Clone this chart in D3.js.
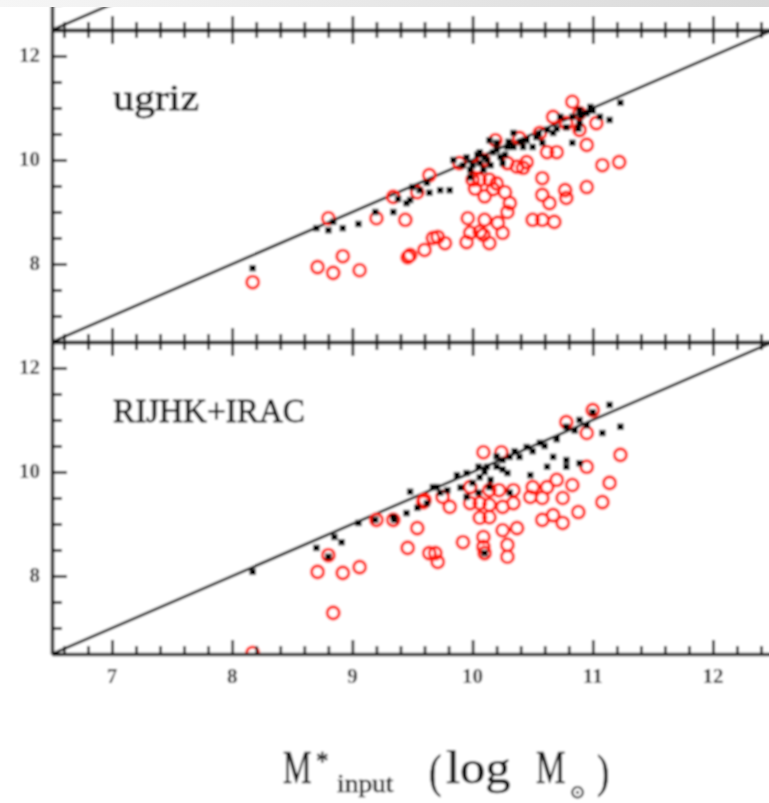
<!DOCTYPE html>
<html>
<head>
<meta charset="utf-8">
<script src="https://cdn.jsdelivr.net/npm/d3@7/dist/d3.min.js"></script>
<style>
  html, body { margin: 0; padding: 0; background: #fff; }
  svg { display: block; }
</style>
</head>
<body>
<svg id="chart" width="769" height="803"></svg>
<script>
// ---------------- data (log stellar mass: input vs. fitted) ----------------
const xTickLabels = ["7", "8", "9", "10", "11", "12"];
const yTickLabels = ["8", "10", "12"];
const panelLabels = ["ugriz", "RIJHK+IRAC"];

const ugrizBlack = [
  [8.17,7.92],[8.70,8.69],[8.80,8.65],[8.84,8.81],[8.92,8.69],[9.05,8.77],[9.19,9.00],[9.34,9.00],
  [9.45,9.17],[9.48,9.23],[9.56,9.42],[9.64,9.37],[9.50,9.48],[9.62,9.56],[9.73,9.42],[9.81,9.42],
  [9.84,10.00],[9.92,9.90],[9.98,9.81],[9.98,9.67],[10.04,10.10],[10.06,10.15],[10.06,9.94],[10.09,9.81],
  [10.12,10.00],[10.14,10.38],[10.17,10.15],[10.20,10.33],[10.23,10.06],[10.25,9.94],[10.29,10.25],
  [10.34,10.52],[10.34,10.25],[10.42,10.25],[10.45,10.38],[10.50,10.25],[10.53,10.44],[10.58,10.33],
  [10.62,10.58],[10.67,10.52],[10.73,10.83],[10.78,10.63],[10.83,10.83],[10.83,10.33],[10.89,10.96],
  [10.89,10.71],[10.95,10.90],[10.98,11.02],[11.06,10.83],[11.14,10.77],[11.23,11.10],
  [9.95,10.05],[10.00,9.90],[10.10,10.05],[10.15,9.90],[10.20,10.20],[10.27,10.10],[10.30,10.35],
  [10.40,10.35],[10.55,10.50],[10.70,10.60],[10.90,10.85],[11.00,10.95],[10.88,10.60],[9.38,9.25]
];
const ugrizRed = [
  [8.17,7.65],[8.80,8.88],[8.71,7.94],[8.84,7.83],[8.92,8.15],[9.06,7.88],[9.20,8.88],[9.34,9.29],
  [9.44,8.85],[9.46,8.13],[9.60,8.27],[9.67,8.50],[9.64,9.71],[9.54,9.38],[10.83,11.12],[10.67,10.83],
  [10.19,10.38],[9.96,8.88],[10.10,8.85],[10.21,8.79],[10.29,9.00],[10.31,9.17],[10.27,9.38],[10.06,9.62],
  [10.14,9.62],[9.98,8.60],[10.09,8.56],[10.14,8.40],[9.95,8.42],[10.25,8.60],[9.71,8.52],[9.77,8.40],
  [9.48,8.17],[10.58,9.65],[10.58,9.33],[10.64,9.17],[10.77,9.42],[10.50,8.85],[10.58,8.85],[10.68,8.81],
  [10.78,9.27],[10.95,9.48],[11.08,9.90],[11.22,9.96],[10.95,10.29],[11.03,10.71],[10.89,10.58],
  [10.70,10.15],[10.62,10.15],[10.45,9.96],[10.37,9.87],[10.29,9.94],[10.09,10.00],[10.04,9.87],
  [10.00,9.62],[9.89,9.94],[10.39,10.42],[10.56,10.52],[10.78,10.71],[10.89,10.90],[10.17,9.44],
  [10.06,8.62],[10.42,9.85],[10.02,9.45],[10.10,9.30],[10.20,9.55]
];
const nirBlack = [
  [8.17,8.08],[8.70,8.54],[8.85,8.75],[8.91,8.65],[8.80,8.37],[9.05,9.02],[9.19,9.08],[9.35,9.08],
  [9.48,9.62],[9.70,9.71],[9.62,9.40],[9.45,9.21],[11.14,11.29],[11.23,10.87],[11.08,10.75],[11.00,11.15],
  [10.89,11.00],[10.78,10.87],[10.70,10.63],[10.56,10.56],[10.45,10.48],[10.39,10.29],[10.31,10.29],
  [10.25,10.23],[10.20,10.10],[10.12,10.10],[10.06,9.90],[10.00,9.79],[9.95,9.52],[9.95,9.98],[9.87,9.94],
  [9.79,9.65],[9.73,9.60],[9.67,9.71],[9.54,9.31],[9.34,9.13],[10.31,9.60],[10.48,9.94],[10.78,10.10],
  [10.62,10.10],[10.67,10.29],[10.78,10.23],[10.89,10.17],[10.10,8.44],[10.14,9.71],[10.29,9.98],
  [10.10,10.00],[10.20,10.30],[10.25,10.05],[10.05,10.10],[10.15,9.85],[10.35,10.40],[10.50,10.40],
  [10.60,10.50],[10.85,10.80],[10.95,10.90],[10.05,9.60],[9.90,9.70]
];
const nirRed = [
  [10.09,10.38],[10.24,10.38],[10.78,10.96],[11.00,11.19],[10.95,10.75],[11.23,10.33],[10.95,10.10],
  [10.83,9.75],[11.14,9.79],[11.08,9.42],[10.88,9.23],[10.75,9.02],[10.67,9.17],[10.58,9.08],[10.75,9.50],
  [10.58,9.50],[10.48,9.52],[10.62,9.71],[10.70,9.85],[10.50,9.71],[10.34,9.40],[10.25,9.33],[10.14,9.37],
  [10.06,9.40],[9.98,9.40],[9.81,9.33],[10.06,9.12],[10.14,9.13],[10.25,8.88],[10.37,8.92],[10.29,8.60],
  [10.29,8.37],[10.09,8.75],[10.09,8.56],[9.92,8.65],[10.10,8.44],[9.69,8.44],[9.71,8.27],[9.46,8.54],
  [9.54,8.92],[9.34,9.08],[9.59,9.42],[9.75,9.52],[9.98,9.71],[10.14,9.65],[10.22,9.65],[10.34,9.65],
  [8.80,8.40],[8.71,8.08],[8.92,8.06],[9.06,8.17],[8.84,7.29],[9.20,9.08],[9.64,8.44],[9.60,9.46],
  [8.17,6.52]
];
const oneToOne = [6.5, 12.5];

// ---------------- layout ----------------
const svg = d3.select("#chart");
const W = 769;
const left = 52, right = 773, panelH = 312;
const panelTops = [-282, 30, 342];

const defs = svg.append("defs");
const blur = defs.append("filter").attr("id", "soft")
  .attr("filterUnits", "userSpaceOnUse")
  .attr("x", 0).attr("y", 0).attr("width", 769).attr("height", 803);
blur.append("feGaussianBlur").attr("stdDeviation", 0.85);
const grad = defs.append("linearGradient").attr("id", "band");
grad.append("stop").attr("offset", "0%").attr("stop-color", "#f6f6f6");
grad.append("stop").attr("offset", "100%").attr("stop-color", "#d9d9d9");

const x = d3.scaleLinear().domain([6.5, 12.5]).range([left, right]);

const root = svg.append("g").attr("filter", "url(#soft)");
root.append("rect").attr("x", 0).attr("y", 0).attr("width", 769).attr("height", 803).attr("fill", "#fff");

const panels = [
  { top: panelTops[0], black: [], red: [], label: null },
  { top: panelTops[1], black: ugrizBlack, red: ugrizRed, label: panelLabels[0] },
  { top: panelTops[2], black: nirBlack, red: nirRed, label: panelLabels[1] }
];

const xMajor = d3.range(7, 13, 1);
const xMinor = d3.range(6.6, 12.5, 0.2).filter(v => Math.abs(v - Math.round(v)) > 0.05);
const yMajor = [8, 10, 12];
const yMinor = [7, 7.5, 8.5, 9, 9.5, 10.5, 11, 11.5, 12.5, 6.5];

panels.forEach((p, i) => {
  const y = d3.scaleLinear().domain([6.5, 12.5]).range([p.top + panelH, p.top]);
  const g = root.append("g");
  const clipId = "clip" + i;
  defs.append("clipPath").attr("id", clipId).append("rect")
    .attr("x", left).attr("y", p.top).attr("width", right - left).attr("height", panelH);

  g.append("line")
    .attr("x1", x(oneToOne[0])).attr("y1", y(oneToOne[0]))
    .attr("x2", x(oneToOne[1])).attr("y2", y(oneToOne[1]))
    .attr("stroke", "#000").attr("stroke-width", 2.8)
    .attr("clip-path", `url(#${clipId})`);

  const pts = g.append("g").attr("clip-path", `url(#${clipId})`);
  pts.selectAll("circle.red").data(p.red).join("circle")
    .attr("class", "red")
    .attr("cx", d => x(d[0])).attr("cy", d => y(d[1])).attr("r", 6)
    .attr("fill", "none").attr("stroke", "#ff1a0a").attr("stroke-width", 3.1);
  pts.selectAll("rect.blk").data(p.black).join("rect")
    .attr("class", "blk")
    .attr("x", d => x(d[0]) - 3.2).attr("y", d => y(d[1]) - 3.2)
    .attr("width", 6.4).attr("height", 6.4)
    .attr("fill", "#000");

  const styleAxis = (sel, w) => {
    sel.select(".domain").attr("stroke", "#2a2a2a").attr("stroke-width", w);
    sel.selectAll(".tick line").attr("stroke", "#000").attr("stroke-width", 2.6);
    sel.selectAll(".tick text").remove();
  };
  const bot = g.append("g").attr("transform", `translate(0,${p.top + panelH})`);
  bot.append("g").call(d3.axisTop(x).tickValues(xMajor).tickSize(14).tickSizeOuter(0).tickFormat(""))
    .call(s => styleAxis(s, 3.6));
  bot.append("g").call(d3.axisTop(x).tickValues(xMinor).tickSize(8).tickSizeOuter(0).tickFormat(""))
    .call(s => styleAxis(s, 0));
  const top = g.append("g").attr("transform", `translate(0,${p.top})`);
  top.append("g").call(d3.axisBottom(x).tickValues(xMajor).tickSize(14).tickSizeOuter(0).tickFormat(""))
    .call(s => styleAxis(s, 3.6));
  top.append("g").call(d3.axisBottom(x).tickValues(xMinor).tickSize(8).tickSizeOuter(0).tickFormat(""))
    .call(s => styleAxis(s, 0));
  const lf = g.append("g").attr("transform", `translate(${left},0)`);
  lf.append("g").call(d3.axisRight(y).tickValues(yMajor).tickSize(15).tickSizeOuter(0).tickFormat(""))
    .call(s => styleAxis(s, 3.6));
  lf.append("g").call(d3.axisRight(y).tickValues(yMinor).tickSize(10).tickSizeOuter(0).tickFormat(""))
    .call(s => styleAxis(s, 0));

  if (p.label) {
    g.selectAll("text.ylab").data(yTickLabels).join("text")
      .attr("class", "ylab")
      .attr("x", 40).attr("y", d => y(+d) - 2).attr("dy", "0.36em")
      .attr("text-anchor", "end")
      .attr("font-family", "Liberation Serif, serif").attr("font-weight", "bold")
      .attr("font-size", 21).attr("fill", "#222")
      .text(d => d);
    const lw = i === 1 ? 86 : 192;
    g.append("text")
      .attr("x", 113).attr("y", y(10.97))
      .attr("font-family", "Liberation Serif, serif")
      .attr("font-size", i === 1 ? 36 : 34).attr("fill", "#111")
      .attr("stroke", "#111").attr("stroke-width", 0.8)
      .attr("textLength", lw).attr("lengthAdjust", "spacingAndGlyphs")
      .text(p.label);
  }
});

root.selectAll("text.xlab").data(xTickLabels).join("text")
  .attr("class", "xlab")
  .attr("x", d => x(+d)).attr("y", 683)
  .attr("text-anchor", "middle")
  .attr("font-family", "Liberation Serif, serif").attr("font-weight", "bold")
  .attr("font-size", 21).attr("fill", "#222")
  .text(d => d);

// x axis title: M*_input (log M_sun), each piece horizontally scaled to the reference widths
const tt = root.append("g").attr("font-family", "Liberation Serif, serif").attr("fill", "#111")
  .attr("stroke", "#111").attr("stroke-width", 0.6);
const piece = (txt, x0, yb, fs, sx) => {
  return tt.append("text").attr("x", 0).attr("y", 0)
    .attr("transform", `translate(${x0},${yb}) scale(${sx},1)`)
    .attr("font-size", fs).text(txt);
};
piece("M", 283, 783, 46, 0.7);
piece("*", 316, 770, 28, 0.9);
piece("input", 337, 792, 25, 1.1);
piece("(", 429, 787, 46, 0.8);
piece("log", 446, 783, 46, 1.1);
piece("M", 536, 783, 46, 0.72);
piece("\u2299", 570, 798, 18, 1.0);
piece(")", 597, 787, 46, 0.8);

svg.append("rect").attr("x", 0).attr("y", 0).attr("width", W).attr("height", 7)
  .attr("fill", "url(#band)");
</script>
</body>
</html>
